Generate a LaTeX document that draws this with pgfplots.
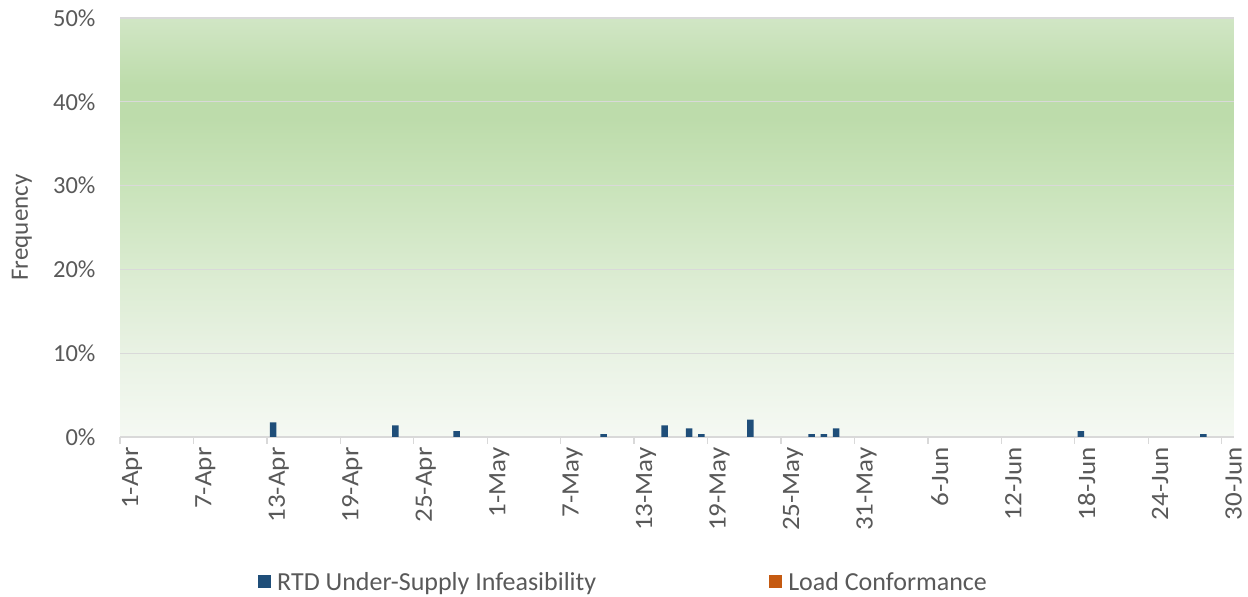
\documentclass[border=0pt]{standalone}
\usepackage{fontspec}
\setmainfont{Carlito}
\newfontfamily\xtfont[FakeStretch=1.08]{Carlito}
\usepackage{pgfplots}
\usepackage{pgfplotstable}
\pgfplotsset{compat=1.18}
\definecolor{barblue}{RGB}{31,78,121}
\definecolor{barorange}{RGB}{197,90,17}
\definecolor{txtgray}{RGB}{89,89,89}
\definecolor{gridgray}{RGB}{217,217,217}
\definecolor{g0}{RGB}{245,249,243}
\definecolor{g10}{RGB}{233,242,228}
\definecolor{g20}{RGB}{218,235,208}
\definecolor{g30}{RGB}{201,227,186}
\definecolor{g40}{RGB}{189,220,171}
\definecolor{g50}{RGB}{209,230,197}
\pgfdeclareverticalshading{bgshade}{100bp}{color(0bp)=(g0); color(25bp)=(g0); color(35bp)=(g10); color(45bp)=(g20); color(55bp)=(g30); color(63bp)=(g40); color(67bp)=(g40); color(75bp)=(g50); color(100bp)=(g50)}
\pgfplotsset{sqleg/.style={legend image code/.code={\fill[##1] (0pt,-6.5pt) rectangle (13pt,6.5pt);}}}
\pgfplotstableread{
x y
12.5 1.74
22.5 1.39
27.5 0.69
39.5 0.35
44.5 1.39
46.5 1.04
47.5 0.35
51.5 2.08
56.5 0.35
57.5 0.35
58.5 1.04
78.5 0.69
88.5 0.35
}\rtd
\begin{document}
\begin{tikzpicture}
\useasboundingbox (0,0) rectangle (1248pt,597pt);
\begin{axis}[
  at={(120pt,160pt)}, anchor=south west,
  scale only axis, width=1114pt, height=419pt,
  xmin=0, xmax=91, ymin=0, ymax=50,
  axis background/.style={shading=bgshade},
  axis x line*=bottom, axis y line*=left,
  x axis line style={draw=gridgray, line width=1.3pt},
  y axis line style={draw=none},
  xtick={0,6,...,90},
  xticklabels={1-Apr,7-Apr,13-Apr,19-Apr,25-Apr,1-May,7-May,13-May,19-May,25-May,31-May,6-Jun,12-Jun,18-Jun,24-Jun,30-Jun},
  xtick style={draw=gridgray, line width=1.3pt},
  tick align=outside, major tick length=7pt,
  ytick={0,10,...,50},
  yticklabels={0\%,10\%,20\%,30\%,40\%,50\%},
  ytick style={draw=none},
  ymajorgrids, grid style={draw=gridgray, line width=1.3pt},
  xticklabel style={rotate=90, anchor=east, font=\xtfont\fontsize{25}{28}\selectfont, text=txtgray, yshift=-12pt},
  yticklabel style={font=\fontsize{24.5}{28}\selectfont, text=txtgray, xshift=-14pt},
  ylabel={Frequency},
  ylabel style={at={(axis description cs:-0.088,0.5)}, anchor=center, font=\fontsize{25}{28}\selectfont, text=txtgray},
  legend columns=2,
  legend style={at={(axis description cs:0.1239,-0.346)}, anchor=west, draw=none, fill=none, inner sep=0pt,
    font=\fontsize{26}{29}\selectfont, text=txtgray,
    /tikz/every odd column/.style={column sep=4pt},
    /tikz/every even column/.style={column sep=171pt}},
]
\addplot[ybar, fill=barblue, draw=none, bar width=0.53, sqleg] table {\rtd};
\addlegendentry{RTD Under-Supply Infeasibility}
\addlegendimage{sqleg, fill=barorange, draw=none}
\addlegendentry{Load Conformance}
\end{axis}
\end{tikzpicture}
\end{document}
